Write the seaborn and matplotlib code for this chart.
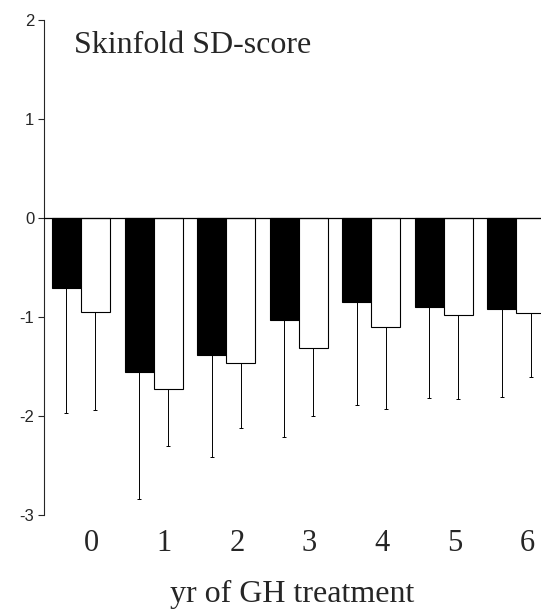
import numpy as np
import pandas as pd
import matplotlib
matplotlib.use("Agg")
import matplotlib.pyplot as plt
import seaborn as sns

sns.set_style("ticks")

# data (SD-score, mean and SD)
years = ["0", "1", "2", "3", "4", "5", "6"]
groups = ["group A", "group B"]
mean_a = [-0.71, -1.55, -1.38, -1.03, -0.85, -0.90, -0.92]
mean_b = [-0.95, -1.73, -1.46, -1.31, -1.10, -0.98, -0.96]
sd_a = [1.26, 1.29, 1.03, 1.18, 1.04, 0.92, 0.89]
sd_b = [0.99, 0.57, 0.66, 0.69, 0.83, 0.85, 0.65]

df = pd.DataFrame({
    "year": years * 2,
    "group": [groups[0]] * len(years) + [groups[1]] * len(years),
    "sds": mean_a + mean_b,
    "sd": sd_a + sd_b,
})

fig = plt.figure(figsize=(5.41, 6.12), dpi=100)
ax = fig.add_axes([0.0813, 0.1585, 0.9187, 0.8085])

sns.barplot(data=df, x="year", y="sds", hue="group", order=years, hue_order=groups,
            palette=["black", "white"], saturation=1, edgecolor="black",
            linewidth=0.8, errorbar=None, legend=False, ax=ax)

# one-sided (downward) SD bars, placed on the bars seaborn drew
bars = [p for p in ax.patches if p.get_width() > 0]
for i, g in enumerate(groups):
    sub = df[df["group"] == g]
    xs = [bars[i * len(years) + j].get_x() + bars[i * len(years) + j].get_width() / 2
          for j in range(len(years))]
    ax.errorbar(xs, sub["sds"], yerr=[sub["sd"], np.zeros(len(sub))], fmt="none",
                ecolor="black", elinewidth=0.7, capsize=1.5, capthick=0.7)

ax.axhline(0, color="black", lw=0.9, zorder=5)

ax.set_ylim(-3, 2)
ax.set_xlim(-0.51, 6.34)
ax.set_yticks([-3, -2, -1, 0, 1, 2])
ax.set_yticklabels(["-3", "-2", "-1", "0", "1", "2"], fontsize=12, family="Liberation Sans")
# year labels sit a little right of the bar pairs in the original
ax.set_xticks(np.arange(len(years)) + 0.15)
ax.set_xticklabels(years, fontsize=22, family="Liberation Serif")
ax.tick_params(axis="x", length=0, pad=10)
ax.tick_params(axis="y", length=4, width=0.8, pad=3)

for s in ["top", "right", "bottom"]:
    ax.spines[s].set_visible(False)
ax.spines["left"].set_linewidth(0.8)

ax.set_xlabel("yr of GH treatment", fontsize=23, family="Liberation Serif", labelpad=16)
ax.set_ylabel("")
ax.text(0.06, 0.933, "Skinfold SD-score", transform=ax.transAxes,
        fontsize=23, family="Liberation Serif", va="baseline", ha="left")

fig.savefig("out.png", dpi=100)
